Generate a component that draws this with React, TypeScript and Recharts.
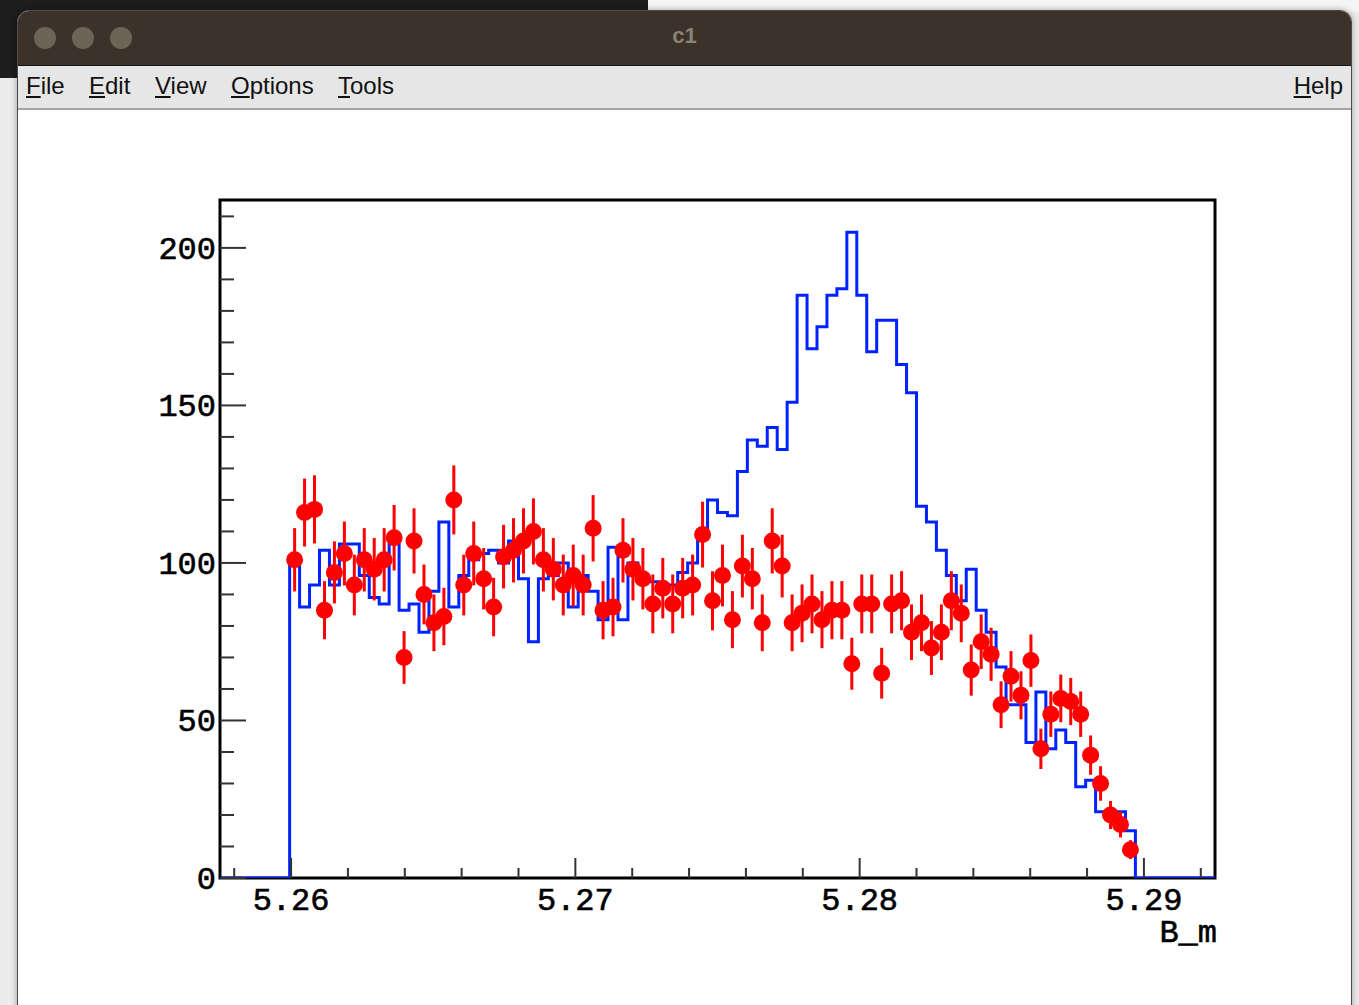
import { ComposedChart, Line, Scatter, ErrorBar, XAxis, YAxis, ReferenceArea } from 'recharts'

// histogram binning (100 bins over the x range)
const BIN_LO = 5.2575
const BIN_HI = 5.2925
const BIN_W = 0.00035
const Y_MAX = 215.2

// blue histogram, one entry per bin
const MC_COUNTS = [
  0, 0, 0, 0, 0, 0, 0,
  101, 86, 93, 104, 93, 106, 106, 96, 89, 87,
  107, 85, 87, 78, 91, 113, 86, 96, 101, 103,
  104, 100, 107, 95, 75, 95, 96, 100, 86, 96,
  91, 82, 105, 82, 100, 95, 94, 93, 93, 97,
  100, 108, 120, 116, 115, 129, 139, 137, 143, 136,
  151, 185, 168, 175, 185, 187, 205, 185, 167, 177,
  177, 163, 154, 118, 113, 104, 96, 88, 98, 85,
  78, 67, 55, 55, 43, 59, 41, 47, 43, 29,
  31, 21, 21, 21, 15,
  0, 0, 0, 0, 0, 0, 0, 0,
]

// red data points, starting at bin 7
const DATA_FIRST_BIN = 7
const DATA_COUNTS = [
  101, 116, 117, 85, 97, 103, 93, 101, 98, 101,
  108, 70, 107, 90, 81, 83, 120, 93, 103, 95,
  86, 102, 104, 107, 110, 101, 98, 93, 96, 93,
  111, 85, 86, 104, 98, 95, 87, 92, 87, 92,
  93, 109, 88, 96, 82, 99, 95, 81, 107, 99,
  81, 84, 87, 82, 85, 85, 68, 87, 87, 65,
  87, 88, 78, 81, 73, 78, 88, 84, 66, 75,
  71, 55, 64, 58, 69, 41, 52, 57, 56, 52,
  39, 30, 20, 17, 9,
]

const X_TICKS = [5.258, 5.26, 5.262, 5.264, 5.266, 5.268, 5.27, 5.272, 5.274, 5.276, 5.278, 5.28, 5.282, 5.284, 5.286, 5.288, 5.29, 5.292]
const X_LABELS: Record<string, string> = { '5.26': '5.26', '5.27': '5.27', '5.28': '5.28', '5.29': '5.29' }
const Y_TICKS = [0, 10, 20, 30, 40, 50, 60, 70, 80, 90, 100, 110, 120, 130, 140, 150, 160, 170, 180, 190, 200, 210]
const Y_LABELS = [0, 50, 100, 150, 200]

const MENU = ['File', 'Edit', 'View', 'Options', 'Tools']
const MENU_X = [26, 89, 155, 231, 338]

const histRows = MC_COUNTS.map((c, i) => ({ x: BIN_LO + i * BIN_W, mc: c })).concat([{ x: BIN_HI, mc: 0 }])
const pointRows = DATA_COUNTS.map((c, i) => ({
  x: BIN_LO + (DATA_FIRST_BIN + i + 0.5) * BIN_W,
  y: c,
  err: Math.sqrt(c),
}))

const axisFont = { fontFamily: '"Liberation Mono", "DejaVu Sans Mono", monospace', fontSize: 32, fontWeight: 400, fill: '#000', stroke: '#000', strokeWidth: 0.6 }

const XTick = (props: any) => {
  const { x, y, payload } = props
  const key = Number(payload.value).toFixed(3).replace(/0$/, '')
  const label = X_LABELS[key]
  return (
    <g>
      <line x1={x} y1={y} x2={x} y2={y - (label ? 20 : 10)} stroke="#333" strokeWidth={2} />
      {label && (
        <text x={x} y={y + 32} textAnchor="middle" style={axisFont}>{label}</text>
      )}
    </g>
  )
}

const YTick = (props: any) => {
  const { x, y, payload } = props
  const major = Y_LABELS.includes(payload.value)
  return (
    <g>
      <line x1={x} y1={y} x2={x + (major ? 26 : 14)} y2={y} stroke="#333" strokeWidth={2} />
      {major && (
        <text x={x - 4} y={y + 11} textAnchor="end" style={axisFont}>{payload.value}</text>
      )}
    </g>
  )
}

const Dot = (props: any) => <circle cx={props.cx} cy={props.cy} r={8.5} fill="#ff0000" />

const App = () => {
  return (
    <div style={{ position: 'absolute', left: 0, top: 0, width: 1359, height: 1005, overflow: 'hidden', background: '#ebebeb' }}>
      <div style={{ position: 'absolute', left: 0, top: 0, width: 648, height: 78, background: '#1d1d1d' }} />
      <div style={{ position: 'absolute', left: 648, top: 0, width: 711, height: 12, background: '#f5f5f5' }} />

      {/* window */}
      <div style={{
        position: 'absolute', left: 17, top: 10, width: 1333, height: 1010,
        border: '1px solid #4a4a4a', borderRadius: '12px 12px 0 0', background: '#fff', overflow: 'hidden',
        boxShadow: '0 0 6px rgba(0,0,0,0.35)'
      }}>
        <div style={{ position: 'absolute', left: 0, top: 0, width: '100%', height: 54, background: '#3d3229', borderBottom: '1px solid #151515' }}>
          {[27, 65, 103].map(cx => (
            <div key={cx} style={{ position: 'absolute', left: cx - 11, top: 16, width: 22, height: 22, borderRadius: 11, background: '#6b6557' }} />
          ))}
          <div style={{ position: 'absolute', left: 0, width: '100%', top: 12, textAlign: 'center', color: '#8a8275', fontFamily: '"Liberation Sans", Arial, sans-serif', fontWeight: 700, fontSize: 22 }}>c1</div>
        </div>
        <div style={{ position: 'absolute', left: 0, top: 55, width: '100%', height: 42, background: '#e6e6e6', borderBottom: '2px solid #a3a3a3', fontFamily: '"Liberation Sans", Arial, sans-serif', fontSize: 24, color: '#111' }}>
          {MENU.map((m, i) => (
            <div key={m} style={{ position: 'absolute', left: MENU_X[i] - 18, top: 6 }}>
              <span style={{ textDecoration: 'underline' }}>{m[0]}</span>{m.slice(1)}
            </div>
          ))}
          <div style={{ position: 'absolute', right: 8, top: 6 }}>
            <span style={{ textDecoration: 'underline' }}>H</span>elp
          </div>
        </div>
      </div>

      <div style={{ position: 'absolute', left: 0, top: 0 }}>
        <ComposedChart width={1359} height={1005} margin={{ top: 200, right: 144, bottom: 47, left: 140 }}>
          <XAxis
            dataKey="x"
            type="number"
            domain={[BIN_LO, BIN_HI]}
            allowDataOverflow
            ticks={X_TICKS}
            interval={0}
            tickSize={0}
            tickMargin={0}
            axisLine={false}
            tickLine={false}
            height={80}
            tick={XTick}
            label={{
              content: (p: any) => {
                const vb = p.viewBox
                return <text x={vb.x + vb.width + 2} y={vb.y + 64} textAnchor="end" style={axisFont}>B_m</text>
              }
            }}
          />
          <YAxis
            type="number"
            domain={[0, Y_MAX]}
            allowDataOverflow
            ticks={Y_TICKS}
            interval={0}
            tickSize={0}
            tickMargin={0}
            axisLine={false}
            tickLine={false}
            width={80}
            tick={YTick}
          />
          <ReferenceArea x1={BIN_LO} x2={BIN_HI} y1={0} y2={Y_MAX} fill="none" stroke="#000" strokeWidth={3} />
          <Line
            data={histRows}
            dataKey="mc"
            type="stepAfter"
            stroke="#0022ff"
            strokeWidth={3}
            dot={false}
            activeDot={false}
            isAnimationActive={false}
          />
          <Scatter data={pointRows} dataKey="y" shape={Dot} isAnimationActive={false}>
            <ErrorBar dataKey="err" direction="y" width={0} stroke="#ff0000" strokeWidth={3} isAnimationActive={false} />
          </Scatter>
        </ComposedChart>
      </div>
    </div>
  )
}

export default App
